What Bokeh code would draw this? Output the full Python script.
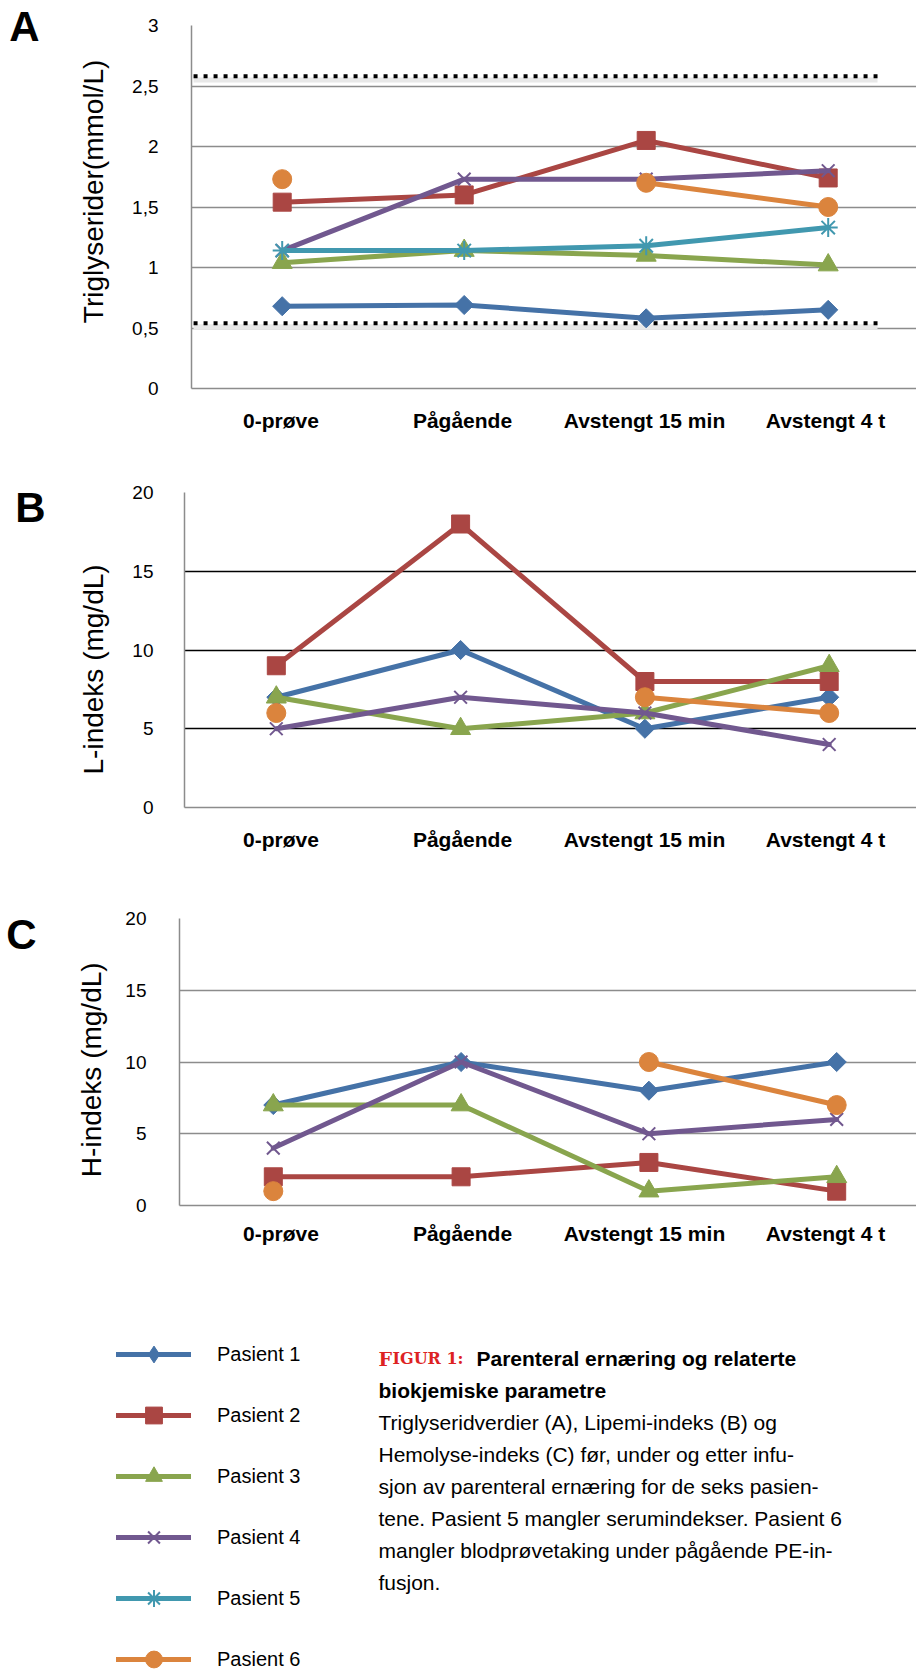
import math
from bokeh.plotting import figure
from bokeh.models import Range1d, FixedTicker, LinearAxis, Legend, LegendItem, ColumnDataSource
from bokeh.layouts import column, row
from bokeh.embed import file_html
from bokeh.resources import INLINE
from bokeh.core.properties import value

nan = float("nan")
NBSP = "\u00a0"

# ---------------- data ----------------
categories = ["0-prøve", "Pågående", "Avstengt 15 min", "Avstengt 4 t"]
patients = ["Pasient 1", "Pasient 2", "Pasient 3", "Pasient 4", "Pasient 5", "Pasient 6"]

# A: Triglyserider (mmol/L)
tg_p1 = [0.68, 0.69, 0.58, 0.65]
tg_p2 = [1.54, 1.60, 2.05, 1.74]
tg_p3 = [1.04, 1.14, 1.10, 1.02]
tg_p4 = [1.14, 1.73, 1.73, 1.80]
tg_p5 = [1.14, 1.14, 1.18, 1.33]
tg_p6 = [1.73, nan, 1.70, 1.50]
tg_ref_levels = [0.54, 2.58]
tg_ticks = [0, 0.5, 1, 1.5, 2, 2.5, 3]
tg_tick_labels = ["0", "0,5", "1", "1,5", "2", "2,5", "3"]

# B: L-indeks (mg/dL)
li_p1 = [7, 10, 5, 7]
li_p2 = [9, 18, 8, 8]
li_p3 = [7, 5, 6, 9]
li_p4 = [5, 7, 6, 4]
li_p5 = None
li_p6 = [6, nan, 7, 6]

# C: H-indeks (mg/dL)
hi_p1 = [7, 10, 8, 10]
hi_p2 = [2, 2, 3, 1]
hi_p3 = [7, 7, 1, 2]
hi_p4 = [4, 10, 5, 6]
hi_p5 = None
hi_p6 = [1, nan, 10, 7]

index_ticks = [0, 5, 10, 15, 20]
index_tick_labels = ["0", "5", "10", "15", "20"]

caption_title_lead = "F"
caption_title_rest = "IGUR 1:"
caption_bold = ["Parenteral ernæring og relaterte", "biokjemiske parametre"]
caption_body = [
    "Triglyseridverdier (A), Lipemi-indeks (B) og",
    "Hemolyse-indeks (C) før, under og etter infu-",
    "sjon av parenteral ernæring for de seks pasien-",
    "tene. Pasient 5 mangler serumindekser. Pasient 6",
    "mangler blodprøvetaking under pågående PE-in-",
    "fusjon.",
]

# ---------------- styles / layout ----------------
colors = ["#4572A7", "#AA4643", "#89A54E", "#71588F", "#4198AF", "#DB843D"]
markers = ["square", "square", "triangle", "x", "asterisk", "circle"]
legend_markers = ["diamond", "square", "triangle", "x", "asterisk", "circle"]
msizes = [13.5, 18, 20, 18, 19, 19]
mangles = [math.pi / 4, 0, 0, 0, 0, 0]
mline = [1, 1, 1, 2, 2, 1]
label_px = [280.5, 462, 644, 825]   # page x of the category label centres

FONT = "Liberation Sans"
GREY = "#8c8c8c"
W = 916
xs = list(range(len(categories)))


def make_panel(height, top, frame_h, left, first_px, step_px, y_max, ticks, tick_labels,
               grid_ticks, grid_color, tick_standoff, x_standoff, ylabel, ylabel_size,
               ylabel_standoff, series, letter, letter_pos, letter_standoff):
    p = figure(width=W, height=height,
               x_range=Range1d((left - first_px) / step_px, (W - first_px) / step_px),
               y_range=Range1d(0, y_max), output_backend="svg", toolbar_location=None,
               min_border_top=top, min_border_bottom=height - top - frame_h,
               min_border_left=left, min_border_right=0)
    p.outline_line_color = None
    p.background_fill_color = "white"
    p.border_fill_color = "white"

    label_ticks = [(lp - first_px) / step_px for lp in label_px]
    xa = p.xaxis[0]
    xa.ticker = FixedTicker(ticks=label_ticks)
    xa.major_label_overrides = {t: c for t, c in zip(label_ticks, categories)}
    xa.major_label_text_font = FONT
    xa.major_label_text_font_size = "21px"
    xa.major_label_text_font_style = "bold"
    xa.major_label_text_color = "black"
    xa.major_label_standoff = x_standoff
    xa.major_tick_line_color = None
    xa.minor_tick_line_color = None
    xa.axis_line_color = GREY
    xa.axis_line_width = 1.5

    ya = p.yaxis[0]
    ya.ticker = FixedTicker(ticks=ticks)
    ya.major_label_overrides = {t: l for t, l in zip(ticks, tick_labels)}
    ya.major_label_text_font = FONT
    ya.major_label_text_font_size = "19px"
    ya.major_label_text_color = "black"
    ya.major_label_standoff = tick_standoff
    ya.major_tick_line_color = None
    ya.minor_tick_line_color = None
    ya.axis_line_color = GREY
    ya.axis_line_width = 1.5
    ya.axis_label = ylabel
    ya.axis_label_text_font = FONT
    ya.axis_label_text_font_size = ylabel_size
    ya.axis_label_text_font_style = "normal"
    ya.axis_label_text_color = "black"
    ya.axis_label_standoff = ylabel_standoff

    # panel letter, carried by an extra (line-less) left axis
    la = LinearAxis(ticker=FixedTicker(ticks=[letter_pos]),
                    major_label_overrides={letter_pos: letter},
                    axis_line_color=None, major_tick_line_color=None,
                    minor_tick_line_color=None, major_label_standoff=letter_standoff,
                    major_label_text_font=FONT, major_label_text_font_size="42px",
                    major_label_text_font_style="bold", major_label_text_color="black")
    p.add_layout(la, "left")

    p.xgrid.visible = False
    p.ygrid.ticker = FixedTicker(ticks=grid_ticks)
    p.ygrid.grid_line_color = grid_color
    p.ygrid.grid_line_width = 1.5

    for i, vals in enumerate(series):
        if vals is None:
            continue
        p.line(xs, vals, line_color=colors[i], line_width=5, line_cap="round",
               line_join="round")
        filled = markers[i] not in ("x", "asterisk")
        p.scatter(xs, vals, marker=markers[i], size=msizes[i], angle=mangles[i],
                  fill_color=colors[i] if filled else None, line_color=colors[i],
                  line_width=mline[i])
    return p


# Panel A  (first category at 281.7px, step 182px)
pa = make_panel(450, 25, 363, 191, 281.7, 182, 3,
                tg_ticks, tg_tick_labels, tg_ticks[1:], GREY, 27, 14,
                NBSP * 4 + "Triglyserider(mmol/L)", "28px", 20,
                [tg_p1, tg_p2, tg_p3, tg_p4, tg_p5, tg_p6], "A", 2.99, 30)
for lvl in tg_ref_levels:
    pa.segment(x0=[-0.487], y0=[lvl - 0.03], x1=[3.271], y1=[lvl - 0.03],
               line_color="#e8e8e8", line_width=5)
    pa.segment(x0=[-0.487], y0=[lvl], x1=[3.271], y1=[lvl], line_color="black",
               line_width=4, line_dash="4 6")
pa.renderers = pa.renderers[-4:] + pa.renderers[:-4]

# Panel B  (first category at 275.8px, step 184.3px)
pb = make_panel(412, 42, 315, 184, 275.8, 184.3, 20,
                index_ticks, index_tick_labels, index_ticks[1:], "black", 25, 14,
                "L-indeks (mg/dL)" + NBSP * 5, "28px", 20,
                [li_p1, li_p2, li_p3, li_p4, li_p5, li_p6], "B", 19.07, 24)

# Panel C  (first category at 272.8px, step 187.8px)
pc = make_panel(398, 56, 287, 179, 272.8, 187.8, 20,
                index_ticks, index_tick_labels, index_ticks[1:], GREY, 27, 10,
                "H-indeks (mg/dL)" + NBSP * 2, "28px", 15,
                [hi_p1, hi_p2, hi_p3, hi_p4, hi_p5, hi_p6], "C", 18.9, 31)

# Legend + caption panel (data coordinates = page pixels)
LTOP, LBOT = 1260, 1672
pl = figure(width=W, height=LBOT - LTOP, x_range=Range1d(0, W), y_range=Range1d(LBOT, LTOP),
            output_backend="svg", toolbar_location=None, x_axis_location=None,
            y_axis_location=None, min_border=0)
pl.outline_line_color = None
pl.background_fill_color = "white"
pl.border_fill_color = "white"
pl.grid.visible = False

items = []
for i, name in enumerate(patients):
    src = ColumnDataSource(dict(x=[nan], y=[nan]))
    r1 = pl.line("x", "y", source=src, line_color=colors[i], line_width=5,
                 line_cap="round")
    filled = legend_markers[i] not in ("x", "asterisk")
    r2 = pl.scatter("x", "y", source=src, marker=legend_markers[i],
                    fill_color=colors[i] if filled else None, line_color=colors[i],
                    line_width=mline[i])
    items.append(LegendItem(label=name, renderers=[r1, r2]))

row_h, row_gap = 42, 19
legend_top = 1354 - row_h / 2
legend_bottom = legend_top + len(patients) * row_h + (len(patients) - 1) * row_gap
legend = Legend(items=items, location=(116, LBOT - legend_bottom), orientation="vertical",
                glyph_width=75, glyph_height=row_h, label_height=20, spacing=row_gap,
                label_standoff=26, padding=0, margin=0,
                label_text_font=FONT, label_text_font_size="20px",
                label_text_color="black", border_line_color=None,
                background_fill_alpha=0)
pl.add_layout(legend)

cx = 378
base = 1358
step = 32
pl.text(x=[cx], y=[base], text=[caption_title_lead], text_font=value("DejaVu Serif"),
        text_font_size="19px", text_font_style="bold", text_color="#dd2222",
        text_baseline="alphabetic")
pl.text(x=[cx + 14], y=[base], text=[caption_title_rest], text_font=value("DejaVu Serif"),
        text_font_size="16px", text_font_style="bold", text_color="#dd2222",
        text_baseline="alphabetic")
pl.text(x=[476, cx], y=[base, base + step], text=caption_bold, text_font=value(FONT),
        text_font_size="21px", text_font_style="bold", text_color="black",
        text_baseline="alphabetic")
pl.text(x=[cx] * len(caption_body),
        y=[base + step * (k + 2) for k in range(len(caption_body))],
        text=caption_body, text_font=value(FONT), text_font_size="21px",
        text_color="black", text_baseline="alphabetic")

layout = column(row(pa), row(pb), row(pc), row(pl), spacing=0)
open("out.html", "w").write(file_html(layout, INLINE))
